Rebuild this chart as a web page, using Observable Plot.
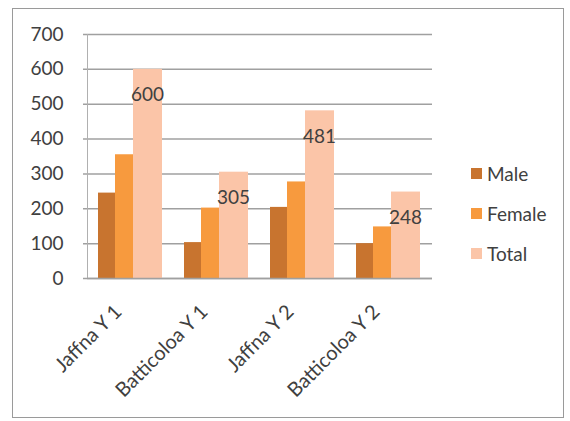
<!DOCTYPE html>
<html>
<head>
<meta charset="utf-8">
<script src="https://cdn.jsdelivr.net/npm/d3@7"></script>
<script src="https://cdn.jsdelivr.net/npm/@observablehq/plot@0.6"></script>
<style>
  html, body { margin: 0; padding: 0; background: #fff; }
  #wrap { position: relative; width: 570px; height: 421px; font-family: Lato, "Open Sans", sans-serif; }
  #border { position: absolute; left: 12px; top: 8px; width: 552px; height: 410px; border: 1px solid #9a9a9a; box-sizing: border-box; }
  #chart { position: absolute; left: 0; top: 0; }
  #legend { position: absolute; left: 471px; top: 153px; font-size: 19px; color: #404040; }
  .item { display: flex; align-items: center; height: 40px; }
  .sw { width: 11px; height: 11px; margin-right: 5px; }
</style>
</head>
<body>
<div id="wrap">
  <div id="border"></div>
  <div id="chart"></div>
  <div id="legend"></div>
</div>
<script>
const categories = ["Jaffna Y 1", "Batticoloa Y 1", "Jaffna Y 2", "Batticoloa Y 2"];
const male = [245, 103, 204, 100];
const female = [355, 202, 277, 148];
const total = [600, 305, 481, 248];
const seriesNames = ["Male", "Female", "Total"];
const seriesColors = ["#c8742f", "#f79a3e", "#fbc5a8"];
const yTicks = [0, 100, 200, 300, 400, 500, 600, 700];

const rows = categories.map((c, i) => ({cat: c, male: male[i], female: female[i], total: total[i]}));

const chart = Plot.plot({
  width: 570,
  height: 421,
  marginLeft: 87,
  marginRight: 138,
  marginTop: 34,
  marginBottom: 143,
  style: {fontFamily: "Lato, 'Open Sans', sans-serif", fontSize: "19px", color: "#404040", background: "transparent"},
  x: {domain: categories, padding: 0, label: null},
  y: {domain: [0, 700], label: null},
  marks: [
    Plot.ruleY(yTicks, {stroke: "#a0a0a0", strokeWidth: 1.5, insetLeft: -4}),
    Plot.barY(rows, {x: "cat", y: "total", fill: seriesColors[2], insetLeft: 45, insetRight: 12}),
    Plot.barY(rows, {x: "cat", y: "male", fill: seriesColors[0], insetLeft: 10, insetRight: 59}),
    Plot.barY(rows, {x: "cat", y: "female", fill: seriesColors[1], insetLeft: 27, insetRight: 41}),
    Plot.text(rows, {x: "cat", y: "total", text: d => String(d.total), dx: 16, dy: 26, fill: "#404040", fontSize: 19}),
    Plot.axisY({ticks: yTicks, tickSize: 0, tickPadding: 24, tickFormat: d => String(d), label: null, fill: "#404040"}),
    Plot.axisX({tickSize: 0, tickRotate: -45, tickPadding: 12, dx: -13, dy: 18, fontSize: 20, label: null, fill: "#404040"}),
    Plot.frame({anchor: "left", stroke: "#b0b0b0"}),
    Plot.ruleY([0], {stroke: "#a0a0a0", strokeWidth: 1.5})
  ]
});
document.getElementById("chart").appendChild(chart);

const legend = document.getElementById("legend");
seriesNames.forEach((n, i) => {
  const it = document.createElement("div");
  it.className = "item";
  const sw = document.createElement("span");
  sw.className = "sw";
  sw.style.background = seriesColors[i];
  const t = document.createElement("span");
  t.textContent = n;
  it.appendChild(sw);
  it.appendChild(t);
  legend.appendChild(it);
});
</script>
</body>
</html>
